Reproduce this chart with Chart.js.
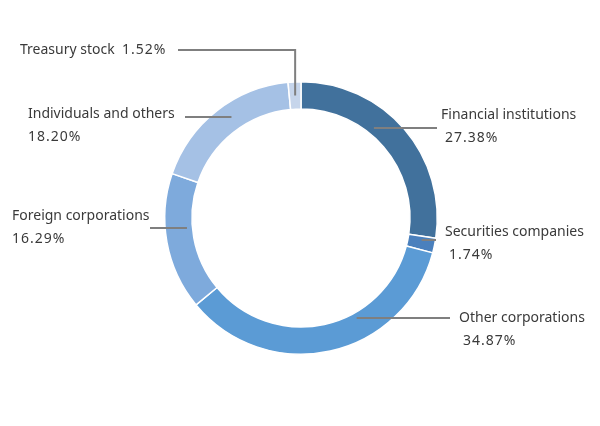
<!DOCTYPE html>
<html>
<head>
<meta charset="utf-8">
<script src="https://cdn.jsdelivr.net/npm/chart.js@4"></script>
<style>
  html, body { margin: 0; padding: 0; background: #ffffff; }
  #wrap { width: 600px; height: 426px; }
</style>
</head>
<body>
<div id="wrap"><canvas id="shareChart" width="600" height="426"></canvas></div>
<script>
// shareholders by type, clockwise from 12 o'clock
const categories = [
  "Financial institutions",
  "Securities companies",
  "Other corporations",
  "Foreign corporations",
  "Individuals and others",
  "Treasury stock",
];
const shares = [27.38, 1.74, 34.87, 16.29, 18.20, 1.52];
const sliceColors = ["#41719c", "#4a80bd", "#5b9bd5", "#7eaadc", "#a5c1e5", "#c6d5eb"];

// where each callout goes (text x, first line y, leader line y, line end x,
// depth = how far into the ring the leader starts, 0 inner edge .. 1 outer edge)
const calloutLayout = [
  { tx: 441, ty: 115, lineY: 128, endX: 437, depth: 0.25 },
  { tx: 445, ty: 232, lineY: 240, endX: 436, depth: 0.5 },
  { tx: 459, ty: 318, lineY: 318, endX: 450, depth: 0.2 },
  { tx: 12, ty: 216, lineY: 228, endX: 150, depth: 0.2 },
  { tx: 28, ty: 114, lineY: 117, endX: 185, depth: 0.5 },
  { tx: 20, ty: 50, lineY: 50, endX: 178, depth: 0.5, oneLine: true, elbow: true },
];

const calloutPlugin = {
  id: "callouts",
  afterDatasetsDraw(chart) {
    const ctx = chart.ctx;
    const arcs = chart.getDatasetMeta(0).data;
    ctx.save();
    ctx.strokeStyle = "#7f7f7f";
    ctx.lineWidth = 2;
    ctx.fillStyle = "#3a3a3a";
    ctx.font = "14px 'Noto Sans'";
    ctx.textBaseline = "middle";
    arcs.forEach((arc, i) => {
      const p = arc.getProps(["x", "y", "startAngle", "endAngle", "innerRadius", "outerRadius"], true);
      const lay = calloutLayout[i];
      const r = p.innerRadius + (p.outerRadius - p.innerRadius) * lay.depth;
      const midA = (p.startAngle + p.endAngle) / 2;
      const side = Math.cos(midA) >= 0 ? 1 : -1;
      const valueText = shares[i].toFixed(2) + "%";
      ctx.beginPath();
      if (lay.elbow) {
        const ax = p.x + r * Math.cos(midA);
        const ay = p.y + r * Math.sin(midA);
        ctx.moveTo(ax, ay);
        ctx.lineTo(ax, lay.lineY);
        ctx.lineTo(lay.endX, lay.lineY);
      } else {
        const dy = lay.lineY - p.y;
        const dx = Math.sqrt(Math.max(0, r * r - dy * dy)) * side;
        ctx.moveTo(p.x + dx, lay.lineY);
        ctx.lineTo(lay.endX, lay.lineY);
      }
      ctx.stroke();
      ctx.letterSpacing = "0px";
      ctx.fillText(categories[i], lay.tx, lay.ty);
      ctx.letterSpacing = "1px";
      if (lay.oneLine) {
        ctx.letterSpacing = "0px";
        const w = ctx.measureText(categories[i] + "  ").width;
        ctx.letterSpacing = "1px";
        ctx.fillText(valueText, lay.tx + w, lay.ty);
      } else {
        ctx.fillText(valueText, lay.tx + (side > 0 ? 4 : 0), lay.ty + 23);
      }
    });
    ctx.restore();
  },
};

const ctx = document.getElementById("shareChart").getContext("2d");
new Chart(ctx, {
  type: "doughnut",
  data: {
    labels: categories,
    datasets: [
      {
        data: shares,
        backgroundColor: sliceColors,
        borderColor: "#ffffff",
        borderWidth: 1.5,
      },
    ],
  },
  options: {
    responsive: false,
    animation: false,
    cutout: "80%",
    layout: {
      padding: { left: 164, right: 162, top: 81, bottom: 71 },
    },
    plugins: {
      legend: { display: false },
      tooltip: { enabled: false },
    },
  },
  plugins: [calloutPlugin],
});
</script>
</body>
</html>
